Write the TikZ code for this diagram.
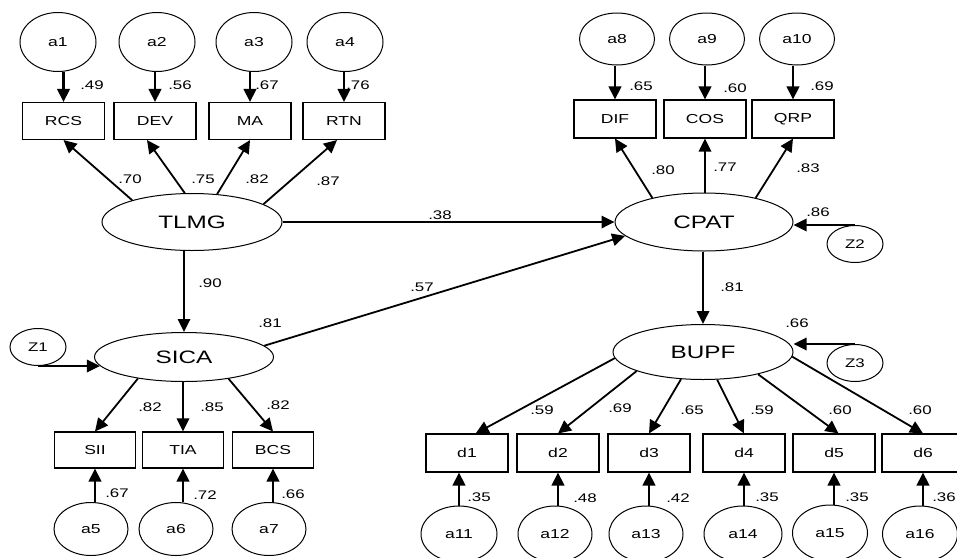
\documentclass[tikz,border=0pt]{standalone}
\usepackage{fontspec}
\setmainfont{Liberation Sans}[FakeStretch=1.35]
\usetikzlibrary{shapes.geometric,arrows.meta,calc}
\begin{document}
\begin{tikzpicture}[x=1pt,y=-1pt,
 lat/.style={ellipse,draw,line width=1pt,minimum width=180pt,minimum height=57pt,inner sep=0pt,font=\fontsize{18}{18}\selectfont},
 err/.style={ellipse,draw,line width=1pt,minimum width=76pt,minimum height=56pt,inner sep=0pt,font=\fontsize{13}{13}\selectfont},
 dist/.style={ellipse,draw,line width=1pt,minimum width=56pt,minimum height=37pt,inner sep=0pt,font=\fontsize{12.5}{12.5}\selectfont},
 obs/.style={rectangle,draw,line width=1.1pt,minimum width=82pt,minimum height=37pt,inner sep=0pt,font=\fontsize{13}{13}\selectfont},
 arr/.style={line width=1.8pt,-{Triangle[length=13pt,width=12.5pt]}},
 earr/.style={line width=2.6pt,-{Triangle[length=13pt,width=12.5pt]}},
 lbl/.style={font=\fontsize{12.5}{12.5}\selectfont,inner sep=0pt}
]
\fill[white] (0,0) rectangle (957,557);
\useasboundingbox (0,0) rectangle (957,557);

% ---------- TLMG block ----------
\node[lat] (TLMG) at (192,222) {TLMG};
\node[obs] (RCS) at (63.5,121) {RCS};
\node[obs] (DEV) at (155,121) {DEV};
\node[obs] (MA)  at (250,121) {MA};
\node[obs] (RTN) at (344,121) {RTN};
\node[err,minimum height=59pt] (a1) at (58,42) {a1};
\node[err,minimum height=59pt] (a2) at (157,42) {a2};
\node[err,minimum height=59pt] (a3) at (254,42) {a3};
\node[err,minimum height=59pt] (a4) at (345,42) {a4};

\draw[earr] (a1.south -| RCS.north) -- (RCS.north);
\draw[earr] (a2.south -| DEV.north) -- (DEV.north);
\draw[earr] (a3.south -| MA.north) -- (MA.north);
\draw[earr] (a4.south -| RTN.north) -- (RTN.north);
\node[lbl] (l49) at (92,85) {.49};
\node[lbl] (l56) at (180,85) {.56};
\node[lbl] (l67a) at (267,85) {.67};
\node[lbl] (l76) at (358,85) {.76};

\draw[arr] (TLMG.160) -- (RCS.south);
\draw[arr] (TLMG.104) -- ($(DEV.south)+(-8,0)$);
\draw[arr] (TLMG.48) -- (MA.south);
\draw[arr] (TLMG.14) -- ($(RTN.south)+(-7,0)$);
\node[lbl] (l70) at (130,179) {.70};
\node[lbl] (l75) at (203,179) {.75};
\node[lbl] (l82a) at (257,179) {.82};
\node[lbl] (l87) at (328,181) {.87};

% ---------- CPAT block ----------
\node[lat,minimum width=178pt,minimum height=58pt] (CPAT) at (704,222) {CPAT};
\node[obs,minimum height=38pt] (DIF) at (615,119) {DIF};
\node[obs,minimum height=38pt] (COS) at (705,119) {COS};
\node[obs,minimum height=38pt] (QRP) at (793,119) {QRP};
\node[err,minimum width=75pt,minimum height=52pt] (a8) at (617,39) {a8};
\node[err,minimum width=75pt,minimum height=52pt] (a9) at (707,39) {a9};
\node[err,minimum width=75pt,minimum height=52pt] (a10) at (797,39) {a10};
\draw[earr] (a8.south -| DIF.north) -- (DIF.north);
\draw[earr] (a9.south -| COS.north) -- (COS.north);
\draw[earr] (a10.south -| QRP.north) -- (QRP.north);
\node[lbl] (l65a) at (641,86) {.65};
\node[lbl] (l60a) at (735,88) {.60};
\node[lbl] (l69a) at (822,86) {.69};

\draw[arr] (CPAT.155) -- (DIF.south);
\draw[arr] (CPAT.north -| COS.south) -- (COS.south);
\draw[arr] (CPAT.25) -- (QRP.south);
\node[lbl] (l80) at (663,170) {.80};
\node[lbl] (l77) at (725,167) {.77};
\node[lbl] (l83) at (808,168) {.83};

\node[dist] (Z2) at (855,244) {Z2};
\draw[arr] (Z2.north) -- (Z2.north -| CPAT.east);
\node[lbl] (l86) at (818,212) {.86};

% structural paths
\draw[arr] (TLMG.east) -- (CPAT.west);
\node[lbl] (l38) at (440,215) {.38};

% ---------- SICA block ----------
\node[lat,minimum width=179pt,minimum height=49pt] (SICA) at (184,357) {SICA};
\draw[arr] (TLMG.south -| SICA.north) -- (SICA.north);
\node[lbl] (l90) at (210,283) {.90};
\node[lbl] (l81a) at (270,323) {.81};

\node[dist] (Z1) at (38,347) {Z1};
\draw[arr] (Z1.south) -- (Z1.south -| SICA.186);

\draw[arr] (SICA.8) -- (CPAT.190);
\node[lbl] (l57) at (422,287) {.57};

\node[obs,minimum width=81pt,minimum height=36pt] (SII) at (95,450) {SII};
\node[obs,minimum width=81pt,minimum height=36pt] (TIA) at (183,450) {TIA};
\node[obs,minimum width=81pt,minimum height=36pt] (BCS) at (273,450) {BCS};
\draw[arr] (SICA.205) -- (SII.north);
\draw[arr] (SICA.south -| TIA.north) -- (TIA.north);
\draw[arr] (SICA.334) -- (BCS.north);
\node[lbl] (l82b) at (150,407) {.82};
\node[lbl] (l85) at (212,407) {.85};
\node[lbl] (l82c) at (278,405) {.82};

\node[err,minimum width=74pt,minimum height=53pt] (a5) at (91,529) {a5};
\node[err,minimum width=74pt,minimum height=53pt] (a6) at (176,529) {a6};
\node[err,minimum width=74pt,minimum height=53pt] (a7) at (269,529) {a7};
\draw[earr] (a5.north -| SII.south) -- (SII.south);
\draw[earr] (a6.north -| TIA.south) -- (TIA.south);
\draw[earr] (a7.north -| BCS.south) -- (BCS.south);
\node[lbl] (l67b) at (117,493) {.67};
\node[lbl] (l72) at (205,495) {.72};
\node[lbl] (l66a) at (293,494) {.66};

% ---------- BUPF block ----------
\node[lat,minimum height=55pt] (BUPF) at (703,352) {BUPF};
\draw[arr] (CPAT.south -| BUPF.north) -- (BUPF.north);
\node[lbl] (l81b) at (732,287) {.81};
\node[lbl] (l66b) at (797,323) {.66};
\node[dist] (Z3) at (855,363) {Z3};
\draw[arr] (Z3.north) -- (Z3.north -| BUPF.east);

\node[obs,minimum height=38pt] (d1) at (467,453) {d1};
\node[obs,minimum height=38pt] (d2) at (558,453) {d2};
\node[obs,minimum height=38pt] (d3) at (649,453) {d3};
\node[obs,minimum height=38pt] (d4) at (744,453) {d4};
\node[obs,minimum height=38pt] (d5) at (834,453) {d5};
\node[obs,minimum height=38pt] (d6) at (923,453) {d6};
\draw[arr] (BUPF.184) -- (d1.66);
\draw[arr] (BUPF.196) -- (d2.north);
\draw[arr] (BUPF.231) -- (d3.north);
\draw[arr] (BUPF.297) -- (d4.north);
\draw[arr] (BUPF.338) -- (d5.77);
\draw[arr] (BUPF.-3) -- (d6.north);
\node[lbl] (l59a) at (542,410) {.59};
\node[lbl] (l69b) at (620,408) {.69};
\node[lbl] (l65b) at (692,410) {.65};
\node[lbl] (l59b) at (762,410) {.59};
\node[lbl] (l60b) at (840,410) {.60};
\node[lbl] (l60c) at (920,410) {.60};

\node[err] (a11) at (459,534) {a11};
\node[err,minimum width=74pt] (a12) at (555,534) {a12};
\node[err,minimum width=74pt] (a13) at (646,534) {a13};
\node[err,minimum width=78pt] (a14) at (743,534) {a14};
\node[err,minimum width=75pt] (a15) at (830,533) {a15};
\node[err,minimum width=75pt] (a16) at (920,534) {a16};
\draw[earr] (a11.north) -- (a11.north |- d1.south);
\draw[earr] (a12.north -| d2.south) -- (d2.south);
\draw[earr] (a13.north -| d3.south) -- (d3.south);
\draw[earr] (a14.north -| d4.south) -- (d4.south);
\draw[earr] (a15.north -| d5.south) -- (d5.south);
\draw[earr] (a16.north -| d6.south) -- (d6.south);
\node[lbl] (l35a) at (479,497) {.35};
\node[lbl] (l48) at (585,498) {.48};
\node[lbl] (l42) at (678,498) {.42};
\node[lbl] (l35b) at (767,497) {.35};
\node[lbl] (l35c) at (857,497) {.35};
\node[lbl] (l36) at (944,497) {.36};
\end{tikzpicture}
\end{document}
